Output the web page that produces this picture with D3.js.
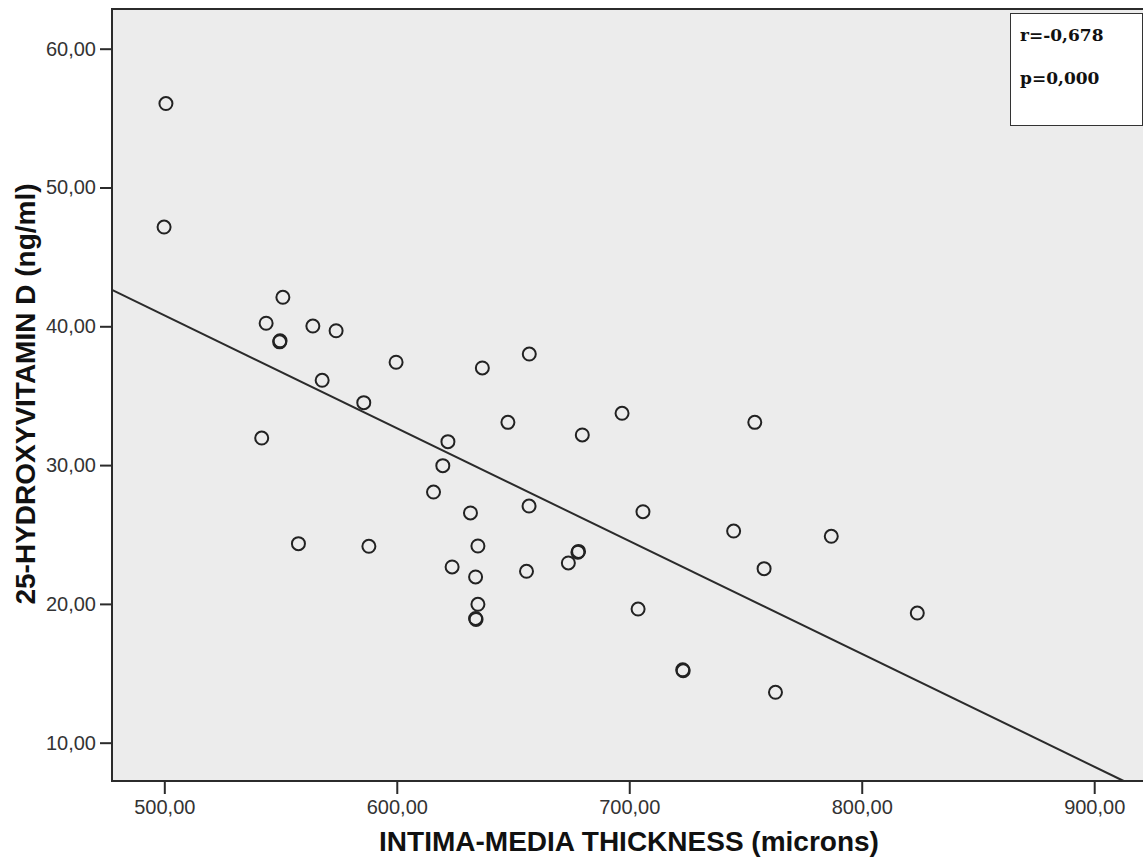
<!DOCTYPE html>
<html>
<head>
<meta charset="utf-8">
<script src="https://cdn.jsdelivr.net/npm/d3@7"></script>
<style>
    body { margin: 0; background: #fff; }
    svg { display: block; overflow: hidden; }
</style>
</head>
<body>
<svg id="chart" width="1143" height="862"></svg>
<script>
// intima-media thickness (microns), one per patient
const imt = [500.7, 499.9, 551.0, 543.8, 549.8, 549.6, 563.9, 573.9, 567.9, 599.7,
             585.8, 541.9, 622.0, 619.8, 615.8, 636.8, 657.0, 647.8, 631.7, 656.9,
             679.8, 696.9, 705.9, 557.7, 588.0, 634.9, 623.8, 633.9, 655.8, 677.9,
             678.2, 673.8, 634.9, 633.9, 634.1, 703.8, 754.0, 744.9, 786.9, 758.0,
             823.9, 723.0, 723.2, 762.9];
// 25-hydroxyvitamin D (ng/ml), same order
const vitD = [56.05, 47.15, 42.09, 40.22, 38.95, 38.88, 40.02, 39.68, 36.11, 37.41,
              34.50, 31.95, 31.69, 29.96, 28.06, 37.00, 38.00, 33.08, 26.55, 27.05,
              32.17, 33.73, 26.64, 24.34, 24.15, 24.17, 22.66, 21.94, 22.35, 23.72,
              23.78, 22.95, 19.97, 18.95, 18.88, 19.63, 33.08, 25.25, 24.87, 22.54,
              19.34, 15.25, 15.18, 13.63];

const xTicks = [500, 600, 700, 800, 900];
const yTicks = [10, 20, 30, 40, 50, 60];

// fit line end points
const fitX = [477.5, 912.7];
const fitY = [42.62, 7.24];

const statLines = ["r=-0,678", "p=0,000"];
const xTitle = "INTIMA-MEDIA THICKNESS (microns)";
const yTitle = "25-HYDROXYVITAMIN D (ng/ml)";

let svg = d3.select("#chart");

var frame = {left: 112, top: 9, right: 1150, bottom: 781};

let x = d3.scaleLinear()
    .domain([477.5, 924])
    .range([frame.left, frame.right]);
let y = d3.scaleLinear()
    .domain([7.24, 62.86])
    .range([frame.bottom, frame.top]);

let fmt = function(d) { return d3.format(".2f")(d).replace(".", ","); };

// plot background
svg.append("rect")
    .attr("x", frame.left)
    .attr("y", frame.top)
    .attr("width", frame.right - frame.left)
    .attr("height", frame.bottom - frame.top)
    .style("fill", "#ececec")
    .style("stroke", "#2b2b2b")
    .style("stroke-width", 2);

let xAxis = d3.axisBottom(x).tickValues(xTicks).tickFormat(fmt).tickSize(13).tickPadding(6);
let yAxis = d3.axisLeft(y).tickValues(yTicks).tickFormat(fmt).tickSize(12).tickPadding(4);

let gX = svg.append("g")
    .attr("transform", "translate(0," + frame.bottom + ")")
    .call(xAxis);
let gY = svg.append("g")
    .attr("transform", "translate(" + frame.left + ",0)")
    .call(yAxis);

[gX, gY].forEach(function(g) {
    g.select(".domain").remove();
    g.selectAll(".tick line").style("stroke", "#2b2b2b").style("stroke-width", 2);
    g.selectAll(".tick text")
        .style("font-family", "Arial, 'Liberation Sans', sans-serif")
        .style("font-size", "20px")
        .style("fill", "#333");
});

// regression line
svg.append("line")
    .attr("x1", x(fitX[0]))
    .attr("y1", y(fitY[0]))
    .attr("x2", x(fitX[1]))
    .attr("y2", y(fitY[1]))
    .style("stroke", "#2b2b2b")
    .style("stroke-width", 2);

svg.selectAll("circle.pt")
    .data(imt)
    .enter()
    .append("circle")
    .attr("class", "pt")
    .attr("cx", function(d) { return x(d); })
    .attr("cy", function(d, i) { return y(vitD[i]); })
    .attr("r", 6.5)
    .style("fill", "none")
    .style("stroke", "#222")
    .style("stroke-width", 2);

// axis titles
svg.append("text")
    .attr("x", 629)
    .attr("y", 851)
    .attr("text-anchor", "middle")
    .style("font-family", "Arial, 'Liberation Sans', sans-serif")
    .style("font-weight", "bold")
    .style("font-size", "28px")
    .style("fill", "#111")
    .text(xTitle);

svg.append("text")
    .attr("transform", "translate(35,394) rotate(-90)")
    .attr("text-anchor", "middle")
    .style("font-family", "Arial, 'Liberation Sans', sans-serif")
    .style("font-weight", "bold")
    .style("font-size", "28px")
    .style("fill", "#111")
    .text(yTitle);

// r / p box
let box = svg.append("g");
box.append("rect")
    .attr("x", 1010.5)
    .attr("y", 13.5)
    .attr("width", 132)
    .attr("height", 112)
    .style("fill", "#fff")
    .style("stroke", "#333")
    .style("stroke-width", 1);
box.selectAll("text")
    .data(statLines)
    .enter()
    .append("text")
    .attr("x", 1020)
    .attr("y", function(d, i) { return 41 + i * 43; })
    .style("font-family", "'DejaVu Serif', serif")
    .style("font-weight", "bold")
    .style("font-size", "17px")
    .style("fill", "#111")
    .text(function(d) { return d; });
</script>
</body>
</html>
